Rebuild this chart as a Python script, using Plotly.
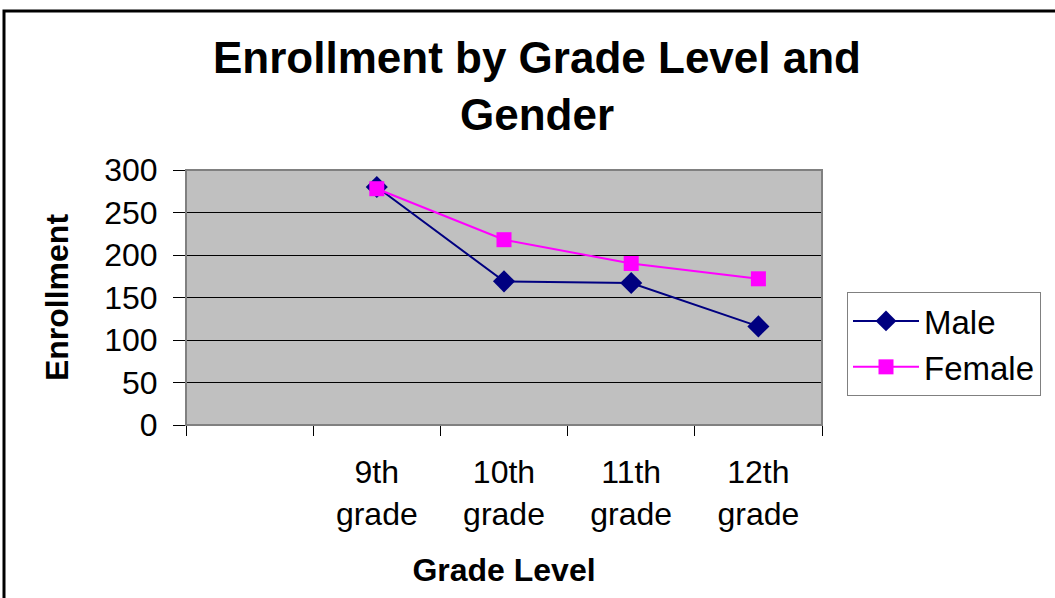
import plotly.graph_objects as go

categories = [" ", "9th<br>grade", "10th<br>grade", "11th<br>grade", "12th<br>grade"]
male = [None, 280, 169, 167, 116]
female = [None, 278, 218, 190, 172]
y_ticks = [0, 50, 100, 150, 200, 250, 300]

W, H = 1055, 598
L, R, T, B = 186, 822, 170, 425  # plot area pixel box
pw, ph = R - L, B - T

def px_x(x):
    return (x - L) / pw

def px_y(y):
    return (B - y) / ph

FONT = "Liberation Sans, Arial, sans-serif"

fig = go.Figure()
fig.add_trace(go.Scatter(
    x=categories, y=male, name="Male", mode="lines+markers",
    line=dict(color="#000080", width=2),
    marker=dict(symbol="diamond", size=17, color="#000080"),
))
fig.add_trace(go.Scatter(
    x=categories, y=female, name="Female", mode="lines+markers",
    line=dict(color="#FF00FF", width=2),
    marker=dict(symbol="square", size=15, color="#FF00FF"),
))

fig.update_layout(
    width=W, height=H,
    margin=dict(l=L, r=W - R, t=T, b=H - B, pad=0),
    paper_bgcolor="white",
    plot_bgcolor="#C0C0C0",
    font=dict(family=FONT, color="black"),
    title=dict(
        text="<b>Enrollment by Grade Level and<br>Gender</b>",
        x=537 / W, xanchor="center", xref="container",
        y=1 - 73 / H, yanchor="top", yref="container",
        font=dict(size=44, family=FONT, color="black"),
    ),
    showlegend=True,
    legend=dict(
        x=px_x(847), xanchor="left", y=px_y(292), yanchor="top",
        bgcolor="white", bordercolor="#808080", borderwidth=1,
        font=dict(size=33, family=FONT, color="black"),
        tracegroupgap=0, itemwidth=66,
    ),
    xaxis=dict(
        type="category",
        categoryorder="array", categoryarray=categories,
        range=[-0.5, len(categories) - 0.5],
        tickson="boundaries",
        ticks="outside", ticklen=10, tickcolor="black", tickwidth=1,
        ticklabelstandoff=19,
        showline=True, linecolor="black", linewidth=1,
        showgrid=False, zeroline=False,
        tickfont=dict(size=32, family=FONT, color="black"),
        title=dict(text="<b>Grade Level</b>", standoff=27,
                   font=dict(size=32, family=FONT, color="black")),
    ),
    yaxis=dict(
        range=[0, 300],
        tickvals=y_ticks,
        ticks="outside", ticklen=12, tickcolor="black", tickwidth=1,
        ticklabelstandoff=9,
        showline=True, linecolor="black", linewidth=1,
        showgrid=True, gridcolor="black", gridwidth=1,
        zeroline=False,
        tickfont=dict(size=32, family=FONT, color="black"),
        title=dict(text="<b>Enrollment</b>", standoff=26,
                   font=dict(size=32, family=FONT, color="black")),
    ),
    shapes=[
        dict(type="rect", xref="paper", yref="paper", x0=0, x1=1, y0=0, y1=1,
             line=dict(color="#808080", width=2), fillcolor="rgba(0,0,0,0)", layer="above"),
        dict(type="rect", xref="paper", yref="paper",
             x0=px_x(4), x1=px_x(W + 20), y0=px_y(H + 20), y1=px_y(11),
             line=dict(color="black", width=3), fillcolor="rgba(0,0,0,0)"),
    ],
)

fig.write_html(
    "out.html",
    config={"displayModeBar": False},
    post_script="document.body.style.margin='0';document.body.style.overflow='hidden';",
)
